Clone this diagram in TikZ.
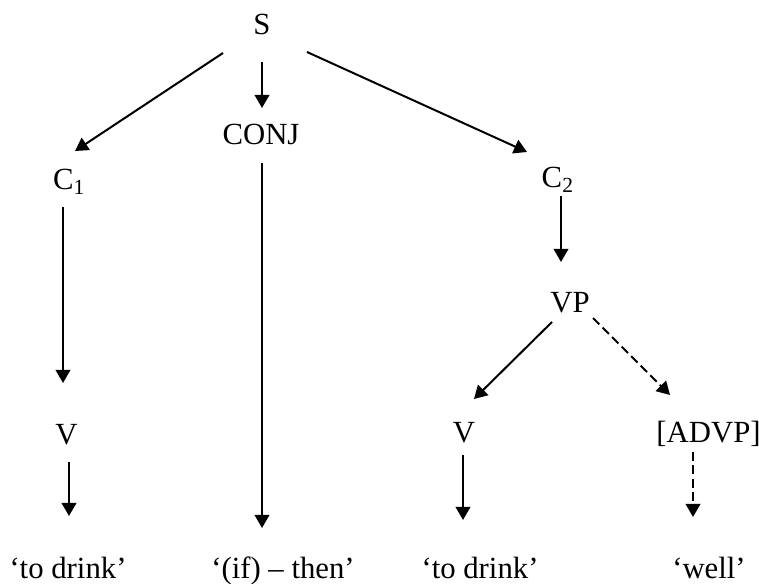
\documentclass[tikz,border=0pt]{standalone}
\usepackage{fontspec}
\setmainfont{Liberation Serif}
\usepackage{tikz}
\usetikzlibrary{
  arrows.meta,
  calc
}

\begin{document}
\begin{tikzpicture}[
      x=0.4pt, y=-0.4pt,
      cat/.style={
         anchor=base,
         inner sep=0pt,
         font=\fontsize{12.3}{15}\selectfont
      },
      gloss/.style={
         cat
      },
      tip/.style={-{Triangle[length=5.2pt,width=5.8pt]},line width=0.8pt},
      opt tip/.style={tip,dash pattern=on 3.6pt off 1.8pt},
    ]
    \useasboundingbox (0,0) rectangle (759,584);
    % categories
    \node (S)     [cat] at (262,35)    {S};
    \node (C1)    [cat] at (69.5,190)  {C\textsubscript{1}};
    \node (CONJ)  [cat] at (261,145)   {CONJ};
    \node (C2)    [cat] at (558,188)   {C\textsubscript{2}};
    \node (V1)    [cat] at (66.5,445)  {V};
    \node (VP)    [cat] at (570,313)   {VP};
    \node (V2)    [cat] at (464,443)   {V};
    \node (ADVP)  [cat] at (708.5,443) {[ADVP]};
    % glosses
    \node (g1) [gloss] at (68,578)  {‘to drink’};
    \node (g2) [gloss] at (283,578) {‘(if) – then’};
    \node (g3) [gloss] at (480,578) {‘to drink’};
    \node (g4) [gloss] at (709,578) {‘well’};
    % arrows
    \draw [tip] ($(S.base)+(-39,18)$) -- ($(C1.base)+(5.5,-39)$);
    \draw [tip] ($(S.base)+(0,27)$) -- ($(CONJ.base)+(1,-37)$);
    \draw [tip] ($(S.base)+(45,17)$) -- ($(C2.base)+(-31,-36)$);
    \draw [tip] ($(CONJ.base)+(1,18)$) -- ($(g2.base)+(-21,-50)$);
    \draw [tip] ($(C1.base)+(-6.5,17)$) -- ($(V1.base)+(-3.5,-62)$);
    \draw [tip] ($(V1.base)+(2.5,17)$) -- ($(g1.base)+(1,-62)$);
    \draw [tip] ($(C2.base)+(3,8)$) -- ($(VP.base)+(-9,-51)$);
    \draw [tip] ($(VP.base)+(-18,9)$) -- ($(V2.base)+(10,-44)$);
    \draw [opt tip] ($(VP.base)+(23,5)$) -- ($(ADVP.base)+(-38.5,-48)$);
    \draw [tip] ($(V2.base)+(-1,12)$) -- ($(g3.base)+(-17,-58)$);
    \draw [opt tip] ($(ADVP.base)+(-15.5,9)$) -- ($(g4.base)+(-16,-61)$);
\end{tikzpicture}
\end{document}
